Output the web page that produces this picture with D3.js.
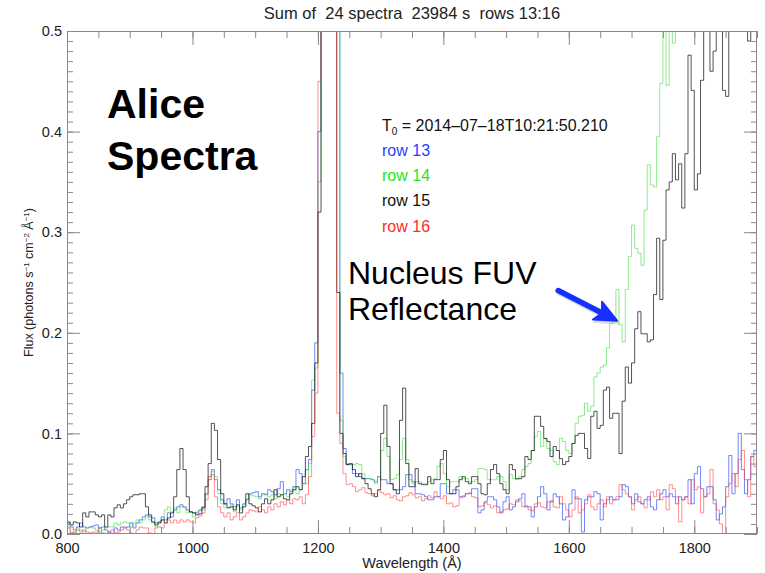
<!DOCTYPE html>
<html><head><meta charset="utf-8">
<script src="https://cdn.jsdelivr.net/npm/d3@7"></script>
<style>
body{margin:0;background:#fff}
text{font-family:"Liberation Sans",Arial,Helvetica,sans-serif}
</style>
</head><body>
<svg id="c" width="765" height="573"></svg>
<script>
// ---------------- data ----------------
const binStart = 800, binWidth = 5;   // wavelength of first bin (Å), bin width (Å)
const seriesNames = ["row 13", "row 14", "row 15", "row 16"];

const row13 = [ // blue
 .011,.007,.004,.007,.011,.007,.006,.007,.008,.009,
 .006,.007,.004,.002,.000,.006,.004,.007,.006,.007,
 .011,.006,.011,.014,.017,.019,.017,.016,.011,.012,
 .017,.014,.021,.017,.024,.027,.029,.027,.024,.022,
 .021,.021,.024,.027,.040,.054,.064,.054,.044,.034,
 .030,.035,.030,.027,.034,.026,.030,.034,.040,.041,
 .042,.037,.040,.039,.044,.042,.039,.045,.052,.040,
 .044,.042,.047,.064,.060,.050,
 .064,.074,.143,.190,.400,
 2.0,4.0,5.0,4.0,2.0,
 .800,.160,
 .085,.069,.069,.060,.060,.057,.055,.055,.055,.054,
 .052,.057,.054,.054,.050,.050,.044,.044,.044,.047,
 .059,.059,.052,.040,.040,.039,.037,.034,.034,.037,
 .037,.050,.050,.040,.040,.044,.044,.037,.037,.040,
 .040,.045,.045,.021,.024,.032,.037,.037,.034,.027,
 .021,.032,.037,.024,.027,.032,.035,.040,.027,.027,
 .017,.027,.037,.047,.040,.024,.032,.040,.037,.030,
 .014,.017,.030,.044,.035,.035,
 .002,.034,.037,.037,.042,.040,.014,.030,.034,.037,
 .034,.034,.037,.049,.047,.037,.030,.040,.032,.030,
 .034,.037,.027,.024,.034,.040,.044,.037,.040,.037,
 .030,.037,.034,.037,.054,.030,.060,.067,.045,.037,
 .047,.047,.034,.014,.020,.027,.047,.078,.040,.060,
 .100,.064,.040,.054,.077,.083
];

const row14 = [ // green
 .007,.002,.001,.006,.004,.002,.006,.007,.006,.004,
 .002,.004,.006,.007,.007,.011,.009,.011,.012,.011,
 .007,.011,.014,.011,.014,.017,.014,.011,.007,.012,
 .014,.024,.027,.022,.026,.021,.027,.026,.021,.022,
 .017,.022,.023,.024,.039,.057,.062,.057,.040,.030,
 .026,.026,.029,.022,.027,.024,.029,.035,.039,.038,
 .037,.035,.039,.040,.037,.039,.035,.040,.039,.040,
 .037,.044,.047,.040,.044,.050,
 .050,.070,.153,.165,.350,
 2.0,4.0,5.0,4.0,2.0,
 .600,.113,
 .077,.070,.069,.069,.070,.069,.060,.055,.055,.054,
 .050,.057,.083,.095,.077,.054,.055,.059,.074,.095,
 .074,.054,.050,.052,.052,.050,.050,.052,.054,.055,
 .067,.070,.060,.047,.052,.052,.052,.057,.055,.055,
 .052,.052,.054,.065,.065,.064,.054,.054,.054,.057,
 .057,.052,.044,.059,.055,.054,.057,.064,.067,.070,
 .083,.097,.102,.087,.095,.085,.083,.072,.069,.095,
 .092,.083,.080,.090,.110,.117,
 .118,.130,.122,.127,.156,.160,.166,.168,.185,.209,
 .211,.243,.208,.191,.243,.276,.307,.284,.279,.267,
 .322,.367,.347,.345,.395,.448,.600,.446,.600,.488,
 .62,.70,.78,.85,.90,.95,1.0,1.05,1.1,1.1,
 1.15,1.2,1.2,1.25,1.3,1.3,1.35,1.4,1.4,1.45,
 1.5,1.5,1.55,1.6,1.6,1.65
];

const row15 = [ // black
 .012,.009,.012,.011,.007,.021,.017,.022,.022,.019,
 .017,.019,.007,.019,.017,.026,.029,.026,.030,.034,
 .037,.039,.039,.040,.040,.027,.019,.012,.009,.011,
 .014,.011,.016,.021,.037,.064,.085,.064,.037,.022,
 .021,.019,.020,.026,.047,.070,.110,.103,.074,.040,
 .030,.026,.027,.024,.029,.021,.027,.040,.030,.028,
 .026,.022,.030,.035,.030,.034,.044,.037,.039,.035,
 .034,.040,.044,.047,.044,.057,
 .077,.087,.110,.170,.320,
 2.0,4.0,5.0,4.0,1.5,
 .240,.100,
 .080,.069,.070,.064,.057,.060,.055,.050,.045,.040,
 .037,.044,.100,.128,.087,.050,.044,.040,.113,.145,
 .070,.047,.047,.065,.050,.049,.049,.057,.050,.054,
 .054,.074,.083,.054,.040,.040,.047,.054,.057,.052,
 .050,.057,.057,.050,.040,.039,.050,.064,.069,.060,
 .050,.044,.040,.069,.064,.055,.055,.057,.077,.074,
 .083,.117,.117,.107,.095,.092,.077,.087,.083,.075,
 .069,.072,.077,.090,.098,.100,
 .100,.085,.075,.117,.122,.105,.108,.143,.146,.115,
 .120,.120,.080,.132,.166,.150,.170,.204,.221,.199,
 .199,.191,.193,.238,.294,.233,.292,.342,.350,.378,
 .352,.368,.324,.378,.476,.441,.342,.358,.451,.620,
 .650,.460,.480,.640,.660,.441,.435,.650,.680,.700,
 .700,.690,.680,.490,.650,.640
];

const row16 = [ // red
 .006,.001,.002,.004,.002,.004,.002,.001,.002,.002,
 .006,.001,.000,.002,.004,.001,.002,.004,.007,.004,
 .001,.000,.004,.007,.006,.006,.001,.000,.006,.007,
 .006,.011,.014,.011,.014,.011,.014,.012,.014,.012,
 .011,.016,.018,.021,.034,.057,.059,.037,.027,.021,
 .017,.021,.014,.017,.021,.014,.017,.021,.024,.023,
 .022,.027,.024,.021,.027,.024,.030,.027,.032,.029,
 .034,.030,.035,.034,.037,.030,
 .039,.057,.097,.140,.450,
 2.0,4.0,5.0,4.0,1.5,
 .120,.090,
 .060,.049,.050,.047,.042,.044,.046,.041,.040,.038,
 .040,.043,.041,.039,.040,.036,.038,.034,.033,.037,
 .038,.041,.039,.036,.037,.033,.035,.038,.036,.042,
 .037,.035,.038,.030,.031,.027,.028,.036,.038,.040,
 .041,.037,.036,.027,.028,.031,.029,.026,.028,.021,
 .022,.024,.025,.030,.029,.034,.033,.027,.028,.024,
 .023,.030,.031,.027,.026,.032,.033,.027,.026,.037,
 .030,.024,.017,.024,.037,.021,
 .024,.030,.039,.027,.024,.030,.034,.027,.037,.030,
 .034,.037,.049,.044,.040,.037,.024,.034,.037,.030,
 .026,.034,.042,.037,.044,.034,.037,.024,.049,.045,
 .037,.012,.034,.037,.030,.054,.044,.047,.021,.037,
 .040,.064,.030,.024,.010,.000,.037,.050,.060,.047,
 .074,.083,.054,.037,.077,.067
];

const xMajorTicks = [800, 1000, 1200, 1400, 1600, 1800];
const yMajorTicks = [0.0, 0.1, 0.2, 0.3, 0.4, 0.5];
const xDomain = [800, 1900], yDomain = [0, 0.5];
const xMinorStep = 50, yMinorStep = 0.01;
const titleText = "Sum of  24 spectra  23984 s  rows 13:16";
const t0Text = " = 2014\u201307\u201318T10:21:50.210";
const arrowFrom = [1583, 0.242], arrowTo = [1677, 0.212];

// ---------------- layout ----------------
const L = 67, R = 757, T = 31, B = 534;
const svg = d3.select("#c");
const x = d3.scaleLinear().domain(xDomain).range([L, R]);
const y = d3.scaleLinear().domain(yDomain).range([B, T]);
const axisColor = "#8a8a8a", labelColor = "#222";

svg.append("defs").append("clipPath").attr("id", "plotclip")
  .append("rect").attr("x", L).attr("y", T).attr("width", R - L).attr("height", B - T);

// series
const series = [
  {name: seriesNames[0], vals: row13, color: "#3355ff", op: 0.7,  text: "#2a3cff"},
  {name: seriesNames[1], vals: row14, color: "#35d835", op: 0.55, text: "#1ee61e"},
  {name: seriesNames[2], vals: row15, color: "#111111", op: 0.72, text: "#111111"},
  {name: seriesNames[3], vals: row16, color: "#ff3535", op: 0.55, text: "#ff2a2a"}
];
const line = d3.line().x(d => x(d[0])).y(d => y(d[1])).curve(d3.curveStepAfter);
const gData = svg.append("g").attr("clip-path", "url(#plotclip)");
series.forEach(s => {
  const pts = s.vals.map((v, i) => [binStart + i * binWidth, Math.max(0, v)]);
  pts.push([binStart + s.vals.length * binWidth, Math.max(0, s.vals[s.vals.length - 1])]);
  gData.append("path").attr("d", line(pts)).attr("fill", "none")
    .attr("stroke", s.color).attr("stroke-opacity", s.op).attr("stroke-width", 1);
});

// axes
const xMinor = d3.range(xDomain[0], xDomain[1] + 0.1, xMinorStep);
const yMinor = d3.range(0, 50.5, 1).map(k => k * yMinorStep);
function styleAxis(g) {
  g.select(".domain").remove();
  g.selectAll("line").attr("stroke", axisColor);
  g.selectAll("text").attr("fill", labelColor).style("font-size", "14.5px");
}
svg.append("g").attr("transform", `translate(0,${B})`)
  .call(d3.axisBottom(x).tickValues(xMinor).tickSize(-7).tickFormat("")).call(styleAxis);
svg.append("g").attr("transform", `translate(0,${B})`)
  .call(d3.axisBottom(x).tickValues(xMajorTicks).tickSize(-14).tickPadding(9).tickFormat(d3.format("d"))).call(styleAxis);
svg.append("g").attr("transform", `translate(0,${T})`)
  .call(d3.axisTop(x).tickValues(xMinor).tickSize(-7).tickFormat("")).call(styleAxis);
svg.append("g").attr("transform", `translate(0,${T})`)
  .call(d3.axisTop(x).tickValues(xMajorTicks).tickSize(-14).tickFormat("")).call(styleAxis);
svg.append("g").attr("transform", `translate(${L},0)`)
  .call(d3.axisLeft(y).tickValues(yMinor).tickSize(-6).tickFormat("")).call(styleAxis);
svg.append("g").attr("transform", `translate(${L},0)`)
  .call(d3.axisLeft(y).tickValues(yMajorTicks).tickSize(-13).tickPadding(5).tickFormat(d3.format(".1f"))).call(styleAxis);
svg.append("g").attr("transform", `translate(${R},0)`)
  .call(d3.axisRight(y).tickValues(yMinor).tickSize(-6).tickFormat("")).call(styleAxis);
svg.append("g").attr("transform", `translate(${R},0)`)
  .call(d3.axisRight(y).tickValues(yMajorTicks).tickSize(-13).tickFormat("")).call(styleAxis);
svg.append("rect").attr("x", L + 0.5).attr("y", T + 0.5).attr("width", R - L - 1).attr("height", B - T - 1)
  .attr("fill", "none").attr("stroke", axisColor).attr("stroke-width", 1);

// title
svg.append("text").attr("x", (L + R) / 2).attr("y", 19).attr("text-anchor", "middle")
  .style("font-size", "16.5px").style("white-space", "pre").attr("fill", labelColor).text(titleText);

// axis titles
svg.append("text").attr("x", (L + R) / 2).attr("y", 568).attr("text-anchor", "middle")
  .style("font-size", "14.5px").attr("fill", labelColor).text("Wavelength (\u00c5)");
const yt = svg.append("text").attr("transform", `translate(33,${(T + B) / 2}) rotate(-90)`)
  .attr("text-anchor", "middle").style("font-size", "12.5px").attr("fill", labelColor);
[["Flux (photons s", false], ["\u22121", true], [" cm", false], ["\u22122", true], [" \u00c5", false], ["\u22121", true], [")", false]]
  .forEach(([t, sup]) => {
    const ts = yt.append("tspan").text(t);
    if (sup) ts.attr("baseline-shift", "super").style("font-size", "8px");
  });

// big labels
svg.append("text").attr("x", 107).attr("y", 118).style("font-size", "41px").style("font-weight", "bold").text("Alice");
svg.append("text").attr("x", 107).attr("y", 170).style("font-size", "41px").style("font-weight", "bold").text("Spectra");
svg.append("text").attr("x", 348).attr("y", 284).style("font-size", "32px").text("Nucleus FUV");
svg.append("text").attr("x", 348).attr("y", 320).style("font-size", "32px").text("Reflectance");

// legend / annotation
const t0 = svg.append("text").attr("x", 382).attr("y", 130.5).style("font-size", "16px").attr("fill", "#111");
t0.append("tspan").text("T");
t0.append("tspan").text("0").style("font-size", "10px").attr("dy", 4);
t0.append("tspan").text(t0Text).attr("dy", -4);
series.forEach((s, i) => {
  svg.append("text").attr("x", 382).attr("y", 156 + i * 25.2).style("font-size", "16px")
    .attr("fill", s.text).text(s.name);
});

// arrow
function drawArrow(dx, dy, color, op) {
  const x0 = x(arrowFrom[0]) + dx, y0 = y(arrowFrom[1]) + dy;
  const x1 = x(arrowTo[0]) + dx, y1 = y(arrowTo[1]) + dy;
  const len = Math.hypot(x1 - x0, y1 - y0), ux = (x1 - x0) / len, uy = (y1 - y0) / len;
  const hl = 22, hw = 10;
  const bx = x1 - ux * hl, by = y1 - uy * hl;
  const g = svg.append("g").attr("opacity", op);
  g.append("line").attr("x1", x0).attr("y1", y0).attr("x2", bx + ux * 4).attr("y2", by + uy * 4)
    .attr("stroke", color).attr("stroke-width", 5.5).attr("stroke-linecap", "round");
  g.append("polygon").attr("points",
    [[x1, y1], [bx - uy * hw, by + ux * hw], [bx + ux * 5, by + uy * 5], [bx + uy * hw, by - ux * hw]].map(p => p.join(",")).join(" "))
    .attr("fill", color).attr("stroke", color).attr("stroke-width", 2).attr("stroke-linejoin", "round");
}
drawArrow(1.5, 2.5, "#999", 0.35);
drawArrow(0, 0, "#1530ff", 1);
</script>
</body></html>
